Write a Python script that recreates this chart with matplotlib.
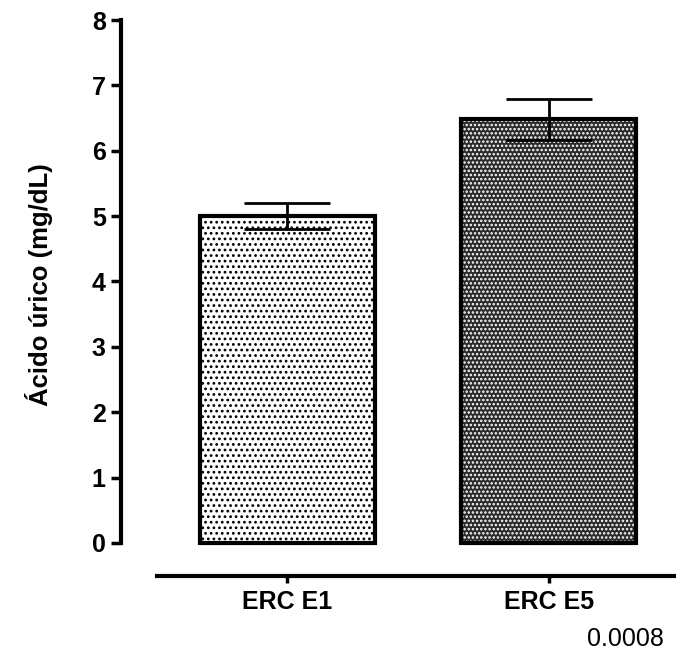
import matplotlib
matplotlib.use("Agg")
import matplotlib.pyplot as plt
import numpy as np

categories = ["ERC E1", "ERC E5"]
means = [5.0, 6.48]
sems = [0.2, 0.31]
yticks = [0, 1, 2, 3, 4, 5, 6, 7, 8]
note = "0.0008"

plt.rcParams['font.family'] = ['Liberation Sans', 'DejaVu Sans']
plt.rcParams['hatch.linewidth'] = 1.2

W, H = 676, 658
fig = plt.figure(figsize=(W/100, H/100), dpi=100)

def px2x(p): return p / W
def py2y(p): return 1 - p / H

ax_left, ax_right = 121, 676
ax_top, ax_bot = 10.2, 582.2
ax = fig.add_axes([px2x(ax_left), py2y(ax_bot), px2x(ax_right - ax_left), (ax_bot - ax_top) / H])

x = np.arange(len(categories))
ax.set_xlim(-0.634, 1.485)
ax.set_ylim(-0.6, 8.15)

# bars
ax.bar(x[0], means[0], width=0.668, facecolor='white', edgecolor='black',
       hatch='...', linewidth=3, zorder=2)
# E5: dark checker pattern
ax.bar(x[1], means[1], width=0.668, facecolor='#2a2a2a', edgecolor='white',
       hatch='....', linewidth=0, zorder=2)
ax.bar(x[1], means[1], width=0.668, facecolor='none', edgecolor='black',
       linewidth=3, zorder=3)

ax.errorbar(x, means, yerr=sems, fmt='none', ecolor='black', elinewidth=2,
            capsize=31, capthick=2, zorder=4)

for s in ['top', 'right']:
    ax.spines[s].set_visible(False)
ax.spines['left'].set_bounds(0, 8)
ax.spines['left'].set_linewidth(3)
ax.spines['bottom'].set_position(('data', -0.5))
ax.spines['bottom'].set_bounds(-0.496, 1.485)
ax.spines['bottom'].set_linewidth(3)

ax.set_yticks(yticks)
ax.set_yticklabels([str(t) for t in yticks], fontsize=18, fontweight='bold')
ax.tick_params(axis='y', length=7, width=2.5, pad=4)
ax.set_xticks(x)
ax.set_xticklabels(categories, fontsize=18, fontweight='bold')
ax.tick_params(axis='x', length=5, width=2.5, pad=5)

ax.set_ylabel("Ácido úrico (mg/dL)", fontsize=18.5, fontweight='bold')
ax.yaxis.set_label_coords(-0.122, 0.52)

fig.text(px2x(664), py2y(639), note, ha='right', va='center', fontsize=18)

fig.savefig("out.png", dpi=100)
